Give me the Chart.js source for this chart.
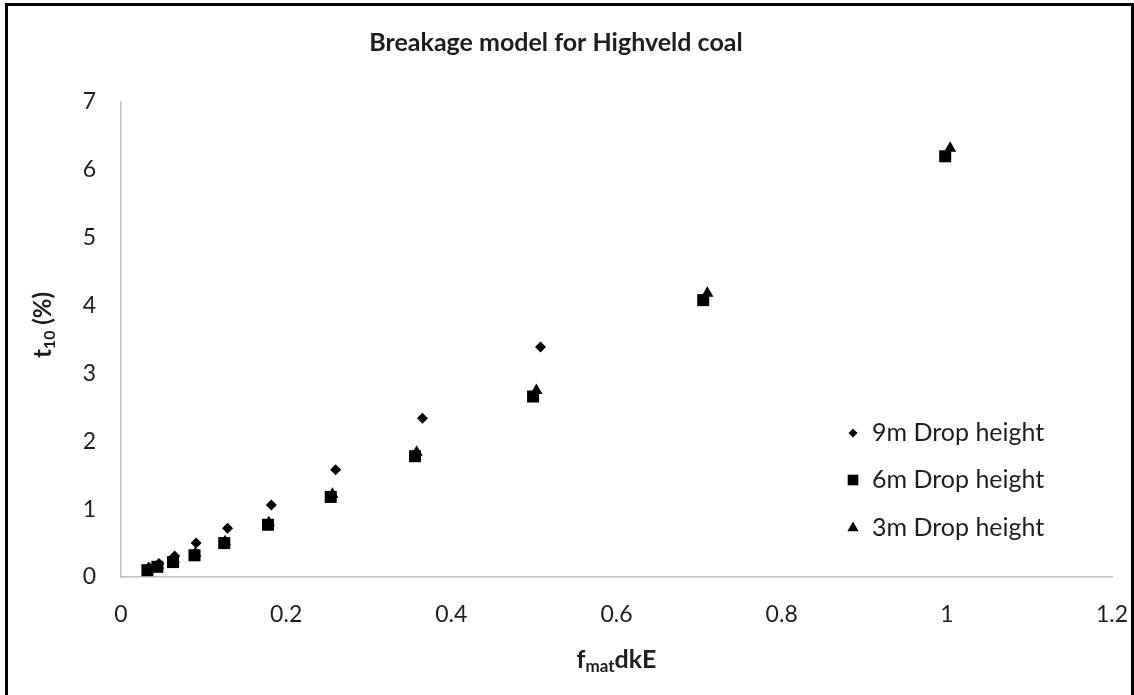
<!DOCTYPE html>
<html>
<head>
<meta charset="utf-8">
<title>Breakage model for Highveld coal</title>
<script src="https://cdn.jsdelivr.net/npm/chart.js@4/dist/chart.umd.min.js"></script>
<style>
    html, body { margin: 0; padding: 0; background: #fff; }
    #chartBox { position: absolute; left: 0; top: 0; width: 1134px; height: 695px; }
    /* Black frame round the chart (open at the bottom) */
    #frame {
        position: absolute; left: 5px; top: 3px; width: 1129px; height: 700px;
        border: 3px solid #000; border-bottom: none; box-sizing: border-box;
        pointer-events: none;
    }
</style>
</head>
<body>
<div id="chartBox"><canvas id="breakageChart" width="1134" height="695"></canvas></div>
<div id="frame"></div>
<script>
// Breakage model data: t10 (%) against fmat*d*k*E for three drop heights
const seriesLabels = ['9m Drop height', '6m Drop height', '3m Drop height'];

const energy9m = [0.034, 0.046, 0.065, 0.091, 0.129, 0.182, 0.260, 0.365, 0.508];
const t10_9m   = [0.14, 0.20, 0.31, 0.50, 0.72, 1.06, 1.58, 2.34, 3.39];

const energy6m = [0.032, 0.044, 0.063, 0.089, 0.125, 0.178, 0.254, 0.356, 0.499, 0.705, 0.998];
const t10_6m   = [0.10, 0.15, 0.22, 0.32, 0.50, 0.77, 1.18, 1.78, 2.66, 4.08, 6.20];

const energy3m = [0.033, 0.045, 0.064, 0.090, 0.126, 0.179, 0.256, 0.358, 0.503, 0.710, 1.004];
const t10_3m   = [0.12, 0.17, 0.26, 0.35, 0.52, 0.80, 1.22, 1.84, 2.75, 4.18, 6.32];

const xTicks = [0, 0.2, 0.4, 0.6, 0.8, 1, 1.2];
const yTicks = [0, 1, 2, 3, 4, 5, 6, 7];

const FONT = 'Lato, "Open Sans", sans-serif';
const TEXT_COLOR = '#1e1e1e';

const toPoints = (xs, ys) => xs.map((x, i) => ({ x: x, y: ys[i] }));

// Draws a run of text pieces, some of them subscripts, centred on (cx, cy)
function drawRichText(ctx, parts, cx, cy) {
    let total = 0;
    parts.forEach(p => {
        ctx.font = `${p.bold ? 'bold ' : ''}${p.size}px ${FONT}`;
        p.w = ctx.measureText(p.text).width;
        total += p.w;
    });
    let x = cx - total / 2;
    ctx.textBaseline = 'middle';
    ctx.textAlign = 'left';
    parts.forEach(p => {
        ctx.font = `${p.bold ? 'bold ' : ''}${p.size}px ${FONT}`;
        ctx.fillText(p.text, x, cy + (p.sub ? 7 : 0));
        x += p.w;
    });
}

const axisTitlePlugin = {
    id: 'axisTitles',
    afterDraw(chart) {
        const ctx = chart.ctx;
        const area = chart.chartArea;
        ctx.save();
        ctx.fillStyle = TEXT_COLOR;

        // x axis: f_mat dkE
        drawRichText(ctx, [
            { text: 'f', size: 25, bold: true },
            { text: 'mat', size: 17, bold: true, sub: true },
            { text: 'dkE', size: 25, bold: true }
        ], (area.left + area.right) / 2, 660);

        // y axis: t_10 (%)
        ctx.translate(43, 325);
        ctx.rotate(-Math.PI / 2);
        drawRichText(ctx, [
            { text: 't', size: 24, bold: true },
            { text: '10', size: 16, bold: true, sub: true },
            { text: ' (%)', size: 24, bold: true }
        ], 0, 0);
        ctx.restore();
    }
};

// Legend sits inside the plot area, lower right
const insideLegendPlugin = {
    id: 'insideLegend',
    afterDraw(chart) {
        const ctx = chart.ctx;
        const rows = [433, 480, 528];
        const legendRadius = [4.5, 7.5, 6.5];
        ctx.save();
        chart.data.datasets.forEach((ds, i) => {
            ctx.fillStyle = ds.backgroundColor;
            ctx.strokeStyle = ds.backgroundColor;
            Chart.helpers.drawPoint(ctx, {
                pointStyle: ds.pointStyle,
                radius: legendRadius[i],
                rotation: 0,
                borderWidth: 0
            }, 853, rows[i]);
            ctx.fillStyle = TEXT_COLOR;
            ctx.font = `25px ${FONT}`;
            ctx.textAlign = 'left';
            ctx.textBaseline = 'middle';
            ctx.fillText(ds.label, 872, rows[i]);
        });
        ctx.restore();
    }
};

const ctx = document.getElementById('breakageChart');

new Chart(ctx, {
    type: 'scatter',
    data: {
        datasets: [
            {
                label: seriesLabels[0],
                data: toPoints(energy9m, t10_9m),
                pointStyle: 'rectRot',
                pointRadius: 5.5,
                backgroundColor: '#000',
                borderColor: '#000',
                borderWidth: 0
            },
            {
                label: seriesLabels[1],
                data: toPoints(energy6m, t10_6m),
                pointStyle: 'rect',
                pointRadius: 8.5,
                backgroundColor: '#000',
                borderColor: '#000',
                borderWidth: 0
            },
            {
                label: seriesLabels[2],
                data: toPoints(energy3m, t10_3m),
                pointStyle: 'triangle',
                pointRadius: 7,
                backgroundColor: '#000',
                borderColor: '#000',
                borderWidth: 0
            }
        ]
    },
    options: {
        responsive: false,
        animation: false,
        devicePixelRatio: 1,
        layout: { padding: { top: 28, right: 22, bottom: 0, left: 0 } },
        plugins: {
            legend: { display: false },
            tooltip: { enabled: false },
            title: {
                display: true,
                text: 'Breakage model for Highveld coal',
                color: TEXT_COLOR,
                font: { family: FONT, size: 25, weight: 'bold' },
                padding: { top: 0, bottom: 44 }
            }
        },
        scales: {
            x: {
                type: 'linear',
                min: xTicks[0],
                max: xTicks[xTicks.length - 1],
                afterBuildTicks: scale => { scale.ticks = xTicks.map(v => ({ value: v })); },
                afterFit: scale => {
                    scale.height = 118;
                    // let the layout padding alone decide the right edge
                    scale.paddingLeft = 0;
                    scale.paddingRight = 0;
                },
                grid: { display: false, drawTicks: false },
                border: { display: true, color: '#c0c0c0', width: 1.5 },
                ticks: {
                    color: TEXT_COLOR,
                    font: { family: FONT, size: 23 },
                    padding: 24,
                    maxRotation: 0,
                    callback: v => String(+v.toFixed(1))
                }
            },
            y: {
                type: 'linear',
                min: yTicks[0],
                max: yTicks[yTicks.length - 1],
                afterBuildTicks: scale => { scale.ticks = yTicks.map(v => ({ value: v })); },
                afterFit: scale => { scale.width = 121; },
                grid: { display: false, drawTicks: false },
                border: { display: true, color: '#c0c0c0', width: 1.5 },
                ticks: {
                    color: TEXT_COLOR,
                    font: { family: FONT, size: 23 },
                    padding: 25,
                    callback: v => String(v)
                }
            }
        }
    },
    plugins: [axisTitlePlugin, insideLegendPlugin]
});
</script>
</body>
</html>
